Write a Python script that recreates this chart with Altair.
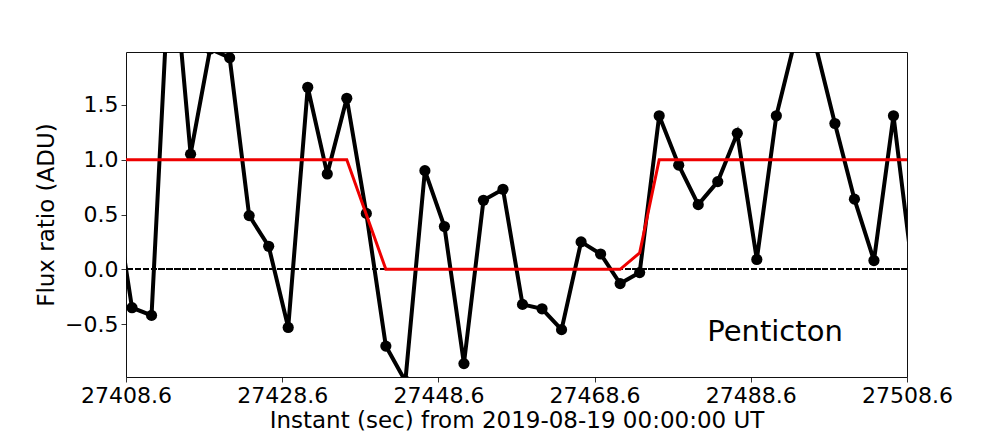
import altair as alt
import pandas as pd

# Sample instants (sec from 2019-08-19 00:00:00 UT)
times = [27406.87, 27409.37, 27411.87, 27414.37, 27416.87, 27419.37, 27421.87,
         27424.37, 27426.87, 27429.37, 27431.87, 27434.37, 27436.87, 27439.37,
         27441.87, 27444.37, 27446.87, 27449.37, 27451.87, 27454.37, 27456.87,
         27459.37, 27461.87, 27464.37, 27466.87, 27469.37, 27471.87, 27474.37,
         27476.87, 27479.37, 27481.87, 27484.37, 27486.87, 27489.37, 27491.87,
         27494.37, 27496.87, 27499.37, 27501.87, 27504.37, 27506.87, 27509.37]

# Observed flux ratio (black)
flux = [0.80, -0.35, -0.42, 3.05, 1.05, 2.01, 1.93, 0.49, 0.21, -0.53, 1.66,
        0.87, 1.56, 0.51, -0.70, -1.02, 0.90, 0.39, -0.86, 0.63, 0.73, -0.32,
        -0.36, -0.55, 0.25, 0.14, -0.13, -0.03, 1.40, 0.95, 0.59, 0.80, 1.24,
        0.09, 1.40, 2.12, 2.05, 1.33, 0.64, 0.08, 1.40, -0.05]

# Occultation model (red)
model = [1.0, 1.0, 1.0, 1.0, 1.0, 1.0, 1.0, 1.0, 1.0, 1.0, 1.0, 1.0, 1.0,
         0.5, 0.0, 0.0, 0.0, 0.0, 0.0, 0.0, 0.0, 0.0, 0.0, 0.0, 0.0, 0.0, 0.0,
         0.15, 1.0, 1.0, 1.0, 1.0, 1.0, 1.0, 1.0, 1.0, 1.0, 1.0, 1.0, 1.0, 1.0, 1.0]

x_ticks = [27408.6, 27428.6, 27448.6, 27468.6, 27488.6, 27508.6]
y_ticks = [-0.5, 0.0, 0.5, 1.0, 1.5]
x_domain = [27408.6, 27508.6]
y_domain = [-0.982, 1.982]

label_text = ["Penticton"]
label_x = [27491.7]
label_y = [-0.575]

df = pd.DataFrame({"t": times, "flux": flux, "model": model})
lab = pd.DataFrame({"x": label_x, "y": label_y, "text": label_text})

FONT = "DejaVu Sans"
W, H = 781, 325

xs = alt.Scale(domain=x_domain, nice=False, zero=False)
ys = alt.Scale(domain=y_domain, nice=False, zero=False)

x_axis = alt.Axis(values=x_ticks, format=".1f", title="Instant (sec) from 2019-08-19 00:00:00 UT",
                  labelFlush=False, labelOverlap=False,
                  titleBaseline="alphabetic", titleY=50, titleX=W / 2, titleAlign="center")
y_axis = alt.Axis(values=y_ticks, format=".1f", title="Flux ratio (ADU)",
                  labelFlush=False, labelOverlap=False,
                  titleAngle=-90, titleBaseline="alphabetic", titleX=-73, titleY=H / 2,
                  titleAlign="center")

base = alt.Chart(df)

zero_rule = alt.Chart(df).mark_rule(color="black", strokeWidth=1.5, strokeDash=[5.5, 2.4]).encode(
    y=alt.datum(0, scale=ys)
)

flux_line = base.mark_line(color="black", strokeWidth=4, clip=True).encode(
    x=alt.X("t:Q", scale=xs, axis=x_axis),
    y=alt.Y("flux:Q", scale=ys, axis=y_axis),
)

flux_pts = base.mark_circle(color="black", size=125, opacity=1, clip=True).encode(
    x=alt.X("t:Q", scale=xs),
    y=alt.Y("flux:Q", scale=ys),
)

model_line = base.mark_line(color="#ee0000", strokeWidth=3, clip=True).encode(
    x=alt.X("t:Q", scale=xs),
    y=alt.Y("model:Q", scale=ys),
)

text = alt.Chart(lab).mark_text(font=FONT, fontSize=29, color="black", align="center",
                                baseline="middle").encode(
    x=alt.X("x:Q", scale=xs),
    y=alt.Y("y:Q", scale=ys),
    text="text:N",
)

chart = alt.layer(zero_rule, flux_line, flux_pts, model_line, text).properties(
    width=W,
    height=H,
    autosize=alt.AutoSizeParams(type="none"),
    padding={"left": 118, "top": 44, "right": 60, "bottom": 60},
).configure_view(
    stroke="#111111", strokeWidth=1
).configure_axis(
    grid=False,
    domain=False,
    labelFont=FONT,
    labelFontSize=22,
    labelColor="black",
    titleFont=FONT,
    titleFontSize=23,
    titleFontWeight="normal",
    titleColor="black",
    tickColor="black",
    tickSize=5,
    tickWidth=0.8,
    labelPadding=3,
)

chart.save("out.html", embed_options={"renderer": "svg", "actions": False})
